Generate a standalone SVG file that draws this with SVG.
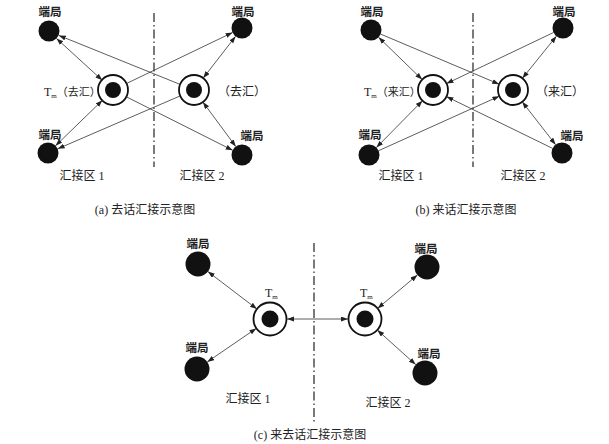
<svg xmlns="http://www.w3.org/2000/svg" width="609" height="444" viewBox="0 0 609 444">
<style>
.bg{fill:#fff}
.end{fill:#111}
.to{fill:#fff;stroke:#111;stroke-width:1.8}
.ti{fill:#111}
.ln{stroke:#333;stroke-width:0.8;fill:none}
.dd{stroke:#333;stroke-width:1.3;stroke-dasharray:9 3 1.5 3;fill:none}
.lab{font-family:"Noto Sans CJK SC",sans-serif;font-size:11.5px;font-weight:bold;fill:#222;text-anchor:middle}
.zn{font-family:"Liberation Serif","Noto Sans CJK SC",serif;font-size:12px;fill:#222;text-anchor:middle}
.tm{font-family:"Liberation Serif","Noto Sans CJK SC",serif;font-size:12px;fill:#222}
.cap{font-family:"Liberation Serif","Noto Sans CJK SC",serif;font-size:12px;fill:#222;text-anchor:middle}
</style>
<defs>
<marker id="ar" markerUnits="userSpaceOnUse" markerWidth="8" markerHeight="6" refX="7" refY="2.5" orient="auto-start-reverse">
<path d="M0,0 L7,2.5 L0,5 z" fill="#222"/>
</marker>
</defs>
<rect class="bg" width="609" height="444"/>

<!-- Panel a -->
<g id="a-divider"><line class="dd" x1="154" y1="13" x2="154" y2="167"/></g>
<g id="a-tl"><circle class="end" cx="49" cy="31" r="10.5"/><text class="lab" x="50" y="16">端局</text></g>
<g id="a-bl"><circle class="end" cx="48" cy="153" r="10.5"/><text class="lab" x="50" y="139">端局</text></g>
<g id="a-tr"><circle class="end" cx="242" cy="28" r="10.5"/><text class="lab" x="243" y="16">端局</text></g>
<g id="a-br"><circle class="end" cx="242" cy="155" r="10.5"/><text class="lab" x="252" y="140">端局</text></g>
<g id="a-tl-tandem"><circle class="to" cx="113" cy="90" r="15"/><circle class="ti" cx="113" cy="90" r="8"/>
<text class="tm" x="44" y="96">T<tspan font-size="7" dy="2">m</tspan><tspan dy="-2" font-size="11" font-family="Noto Sans CJK SC,sans-serif">（去汇）</tspan></text></g>
<g id="a-tr-tandem"><circle class="to" cx="194" cy="90" r="15"/><circle class="ti" cx="194" cy="90" r="8"/>
<text class="tm" x="242" y="96" font-size="11" text-anchor="middle" font-family="Noto Sans CJK SC,sans-serif">（去汇）</text></g>
<g id="a-zone1"><text class="zn" x="82" y="180">汇接区 1</text></g>
<g id="a-zone2"><text class="zn" x="202" y="180">汇接区 2</text></g>
<g id="a-caption"><text class="cap" x="145" y="214">(a) 去话汇接示意图</text></g>

<!-- Panel b -->
<g id="b-divider"><line class="dd" x1="473" y1="13" x2="473" y2="167"/></g>
<g id="b-tl"><circle class="end" cx="371" cy="30" r="10.5"/><text class="lab" x="372" y="16">端局</text></g>
<g id="b-bl"><circle class="end" cx="369" cy="155" r="10.5"/><text class="lab" x="370" y="139">端局</text></g>
<g id="b-tr"><circle class="end" cx="563" cy="28" r="10.5"/><text class="lab" x="564" y="16">端局</text></g>
<g id="b-br"><circle class="end" cx="562" cy="153" r="10.5"/><text class="lab" x="572" y="140">端局</text></g>
<g id="b-tl-tandem"><circle class="to" cx="433" cy="90" r="15"/><circle class="ti" cx="433" cy="90" r="8"/>
<text class="tm" x="364" y="96">T<tspan font-size="7" dy="2">m</tspan><tspan dy="-2" font-size="11" font-family="Noto Sans CJK SC,sans-serif">（来汇）</tspan></text></g>
<g id="b-tr-tandem"><circle class="to" cx="513" cy="90" r="15"/><circle class="ti" cx="513" cy="90" r="8"/>
<text class="tm" x="560" y="96" font-size="11" text-anchor="middle" font-family="Noto Sans CJK SC,sans-serif">（来汇）</text></g>
<g id="b-zone1"><text class="zn" x="401" y="180">汇接区 1</text></g>
<g id="b-zone2"><text class="zn" x="523" y="180">汇接区 2</text></g>
<g id="b-caption"><text class="cap" x="466" y="214">(b) 来话汇接示意图</text></g>

<!-- Panel c -->
<g id="c-divider"><line class="dd" x1="314" y1="243" x2="314" y2="423"/></g>
<g id="c-tl"><circle class="end" cx="198" cy="264" r="12.5"/><text class="lab" x="198" y="248">端局</text></g>
<g id="c-bl"><circle class="end" cx="197" cy="369" r="12.5"/><text class="lab" x="197" y="352">端局</text></g>
<g id="c-tr"><circle class="end" cx="427" cy="267" r="12.5"/><text class="lab" x="426" y="253">端局</text></g>
<g id="c-br"><circle class="end" cx="425" cy="373" r="12.5"/><text class="lab" x="429" y="358">端局</text></g>
<g id="c-l-tandem"><circle class="to" cx="270" cy="319" r="16.5"/><circle class="ti" cx="270" cy="319" r="8.5"/>
<text class="tm" x="265" y="297">T<tspan font-size="7" dy="2">m</tspan></text></g>
<g id="c-r-tandem"><circle class="to" cx="365" cy="319" r="16.5"/><circle class="ti" cx="365" cy="319" r="8.5"/>
<text class="tm" x="360" y="297">T<tspan font-size="7" dy="2">m</tspan></text></g>
<g id="c-zone1"><text class="zn" x="248" y="403">汇接区 1</text></g>
<g id="c-zone2"><text class="zn" x="388" y="407">汇接区 2</text></g>
<g id="c-caption"><text class="cap" x="310" y="439">(c) 来去话汇接示意图</text></g>

<g id="connectors">
<!-- a -->
<line class="ln" x1="56.5" y1="38.5" x2="102.3" y2="80.3" marker-start="url(#ar)" marker-end="url(#ar)"/>
<line class="ln" x1="55.5" y1="145.8" x2="102.4" y2="100.3" marker-start="url(#ar)" marker-end="url(#ar)"/>
<line class="ln" x1="235.6" y1="36.3" x2="203.2" y2="78.1" marker-start="url(#ar)" marker-end="url(#ar)"/>
<line class="ln" x1="235.8" y1="146.6" x2="202.9" y2="102" marker-start="url(#ar)" marker-end="url(#ar)"/>
<line class="ln" x1="126.5" y1="83.5" x2="232.6" y2="32.5" marker-end="url(#ar)"/>
<line class="ln" x1="126.4" y1="96.8" x2="232.7" y2="150.3" marker-end="url(#ar)"/>
<line class="ln" x1="180.1" y1="84.4" x2="58.8" y2="35.4" marker-end="url(#ar)"/>
<line class="ln" x1="180.2" y1="95.9" x2="57.7" y2="148.8" marker-end="url(#ar)"/>
<!-- b -->
<line class="ln" x1="378.6" y1="37.3" x2="422.2" y2="79.6" marker-start="url(#ar)" marker-end="url(#ar)"/>
<line class="ln" x1="376.4" y1="147.5" x2="422.5" y2="100.7" marker-start="url(#ar)" marker-end="url(#ar)"/>
<line class="ln" x1="556.4" y1="36.2" x2="522.4" y2="78.3" marker-start="url(#ar)" marker-end="url(#ar)"/>
<line class="ln" x1="555.6" y1="144.7" x2="522.2" y2="101.8" marker-start="url(#ar)" marker-end="url(#ar)"/>
<line class="ln" x1="380.7" y1="34.1" x2="499.2" y2="84.2" marker-end="url(#ar)"/>
<line class="ln" x1="553.5" y1="32.5" x2="446.5" y2="83.6" marker-end="url(#ar)"/>
<line class="ln" x1="378.6" y1="150.7" x2="499.3" y2="96.2" marker-end="url(#ar)"/>
<line class="ln" x1="552.6" y1="148.4" x2="446.5" y2="96.6" marker-end="url(#ar)"/>
<!-- c -->
<line class="ln" x1="207.9" y1="271.6" x2="256.9" y2="309" marker-start="url(#ar)" marker-end="url(#ar)"/>
<line class="ln" x1="207.3" y1="361.9" x2="256.4" y2="328.3" marker-start="url(#ar)" marker-end="url(#ar)"/>
<line class="ln" x1="417.4" y1="275" x2="377.6" y2="308.4" marker-start="url(#ar)" marker-end="url(#ar)"/>
<line class="ln" x1="415.7" y1="364.6" x2="377.3" y2="330" marker-start="url(#ar)" marker-end="url(#ar)"/>
<line class="ln" x1="287" y1="319" x2="348" y2="319" marker-start="url(#ar)" marker-end="url(#ar)"/>
</g>
</svg>
